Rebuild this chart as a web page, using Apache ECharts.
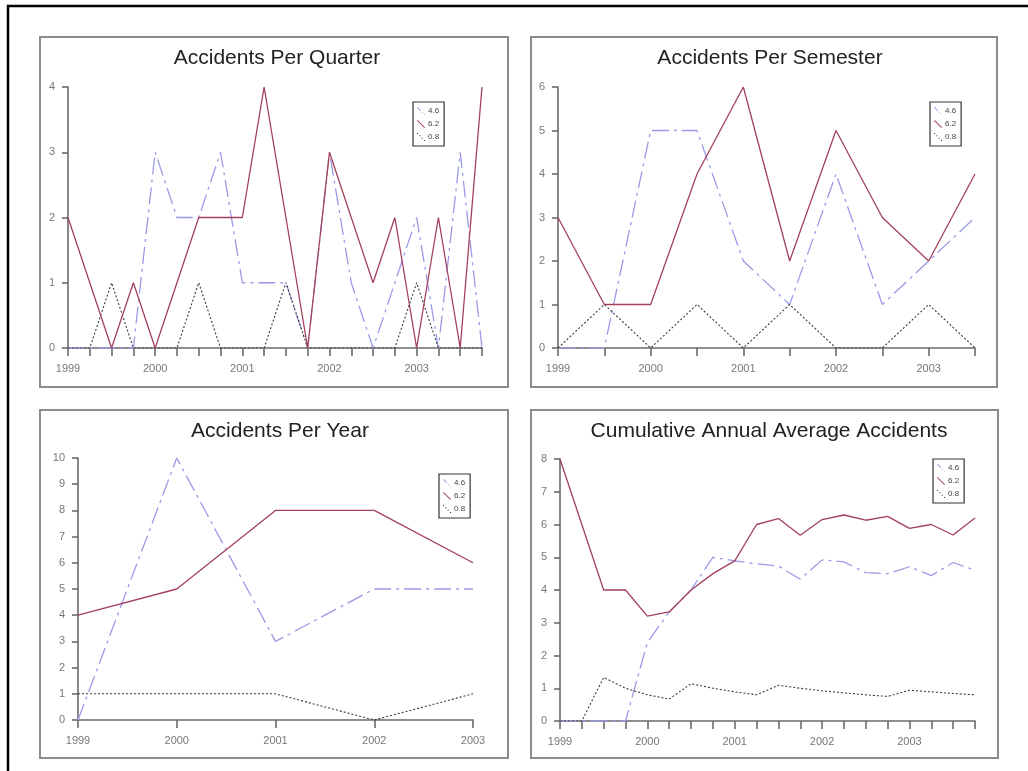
<!DOCTYPE html>
<html><head><meta charset="utf-8">
<script src="https://cdn.jsdelivr.net/npm/echarts@6/dist/echarts.min.js"></script>
<style>html,body{margin:0;padding:0;background:#fff}#c{width:1028px;height:771px}</style>
</head><body><div id="c"></div>
<script>
// ---- data ----
const quarters = ['1999 Q1','1999 Q2','1999 Q3','1999 Q4','2000 Q1','2000 Q2','2000 Q3','2000 Q4',
  '2001 Q1','2001 Q2','2001 Q3','2001 Q4','2002 Q1','2002 Q2','2002 Q3','2002 Q4',
  '2003 Q1','2003 Q2','2003 Q3','2003 Q4'];
const semesters = ['1999 H1','1999 H2','2000 H1','2000 H2','2001 H1','2001 H2','2002 H1','2002 H2','2003 H1','2003 H2'];
const years = ['1999','2000','2001','2002','2003'];
const seriesNames = ['4.6','6.2','0.8'];

const quarterBlue  = [0,0,0,0, 3,2,2,3, 1,1,1,0, 3,1,0,1, 2,0,3,0];
const quarterRed   = [2,1,0,1, 0,1,2,2, 2,4,2,0, 3,2,1,2, 0,2,0,4];
const quarterBlack = [0,0,1,0, 0,0,1,0, 0,0,1,0, 0,0,0,0, 1,0,0,0];

const semesterBlue  = [0,0,5,5,2,1,4,1,2,3];
const semesterRed   = [3,1,1,4,6,2,5,3,2,4];
const semesterBlack = [0,1,0,1,0,1,0,0,1,0];

const yearBlue  = [0,10,3,5,5];
const yearRed   = [4,5,8,8,6];
const yearBlack = [1,1,1,0,1];

const cumBlue  = [0,0,0,0, 2.4,3.33,4,5, 4.89,4.8,4.73,4.33, 4.92,4.86,4.53,4.5, 4.71,4.44,4.84,4.6];
const cumRed   = [8,6,4,4, 3.2,3.33,4,4.5, 4.89,6,6.18,5.67, 6.15,6.29,6.13,6.25, 5.88,6,5.68,6.2];
const cumBlack = [0,0,1.33,1, 0.8,0.67,1.14,1, 0.89,0.8,1.09,1, 0.92,0.86,0.8,0.75, 0.94,0.89,0.84,0.8];

const titles = ['Accidents Per Quarter','Accidents Per Semester','Accidents Per Year','Cumulative Annual Average Accidents'];
const yMax = [4,6,10,8];

// ---- styles ----
const FONT = '"Liberation Sans", Arial, sans-serif';
const BLUE = '#9a9ae8', RED = '#a3405e', BLACK = '#3a3a3a';
const styleOf = {
  '4.6': {color: BLUE, type: [17,5,3,5], width: 1.3},
  '6.2': {color: RED, type: 'solid', width: 1.3},
  '0.8': {color: BLACK, type: [2,2], width: 1.1}
};
const icons = {
  '4.6': 'path://M0,0.8L0.8,0L5,4.2L4.2,5Z M6.2,7L7,6.2L7.8,7L7,7.8Z M9.2,10L8.6,9.4L9.4,8.6L10,9.2Z',
  '6.2': 'path://M0,0.8L0.8,0L10,9.2L9.2,10Z',
  '0.8': 'path://M0,0h1.3v1.3h-1.3Z M2.9,2.9h1.3v1.3h-1.3Z M5.8,5.8h1.3v1.3h-1.3Z M8.7,8.7h1.3v1.3h-1.3Z'
};

const grids = [
  {left:68, top:87, width:414, height:261},
  {left:558, top:87, width:417, height:261},
  {left:78, top:458, width:395, height:262},
  {left:560, top:459, width:415, height:262}
];
const cats = [quarters, semesters, years, quarters];
const labelInterval = [3,1,0,3];
const dataSets = [
  [quarterBlue, quarterRed, quarterBlack],
  [semesterBlue, semesterRed, semesterBlack],
  [yearBlue, yearRed, yearBlack],
  [cumBlue, cumRed, cumBlack]
];
const titlePos = [[272,43],[765,43],[275,416],[764,416]];
const legendPos = [[413,102],[930,102],[439,474],[933,459]];
const panels = [[40,37,468,350],[531,37,466,350],[40,410,468,348],[531,410,467,348]];

const xAxis = [], yAxis = [], series = [], title = [], legend = [], graphic = [];
for (let i = 0; i < 4; i++) {
  xAxis.push({
    type:'category', gridIndex:i, data:cats[i], boundaryGap:false,
    axisLine:{lineStyle:{color:'#6a6a6a', width:1.6}},
    axisTick:{interval:0, length:8, lineStyle:{color:'#6a6a6a', width:1.6}},
    axisLabel:{interval:labelInterval[i], margin:15, fontSize:11, color:'#777', fontFamily:FONT,
      formatter: v => v.slice(0,4)},
    splitLine:{show:false}
  });
  yAxis.push({
    type:'value', gridIndex:i, min:0, max:yMax[i], interval:1,
    axisLine:{show:true, lineStyle:{color:'#6a6a6a', width:1.6}},
    axisTick:{show:true, length:6, lineStyle:{color:'#6a6a6a', width:1.6}},
    axisLabel:{margin:13, fontSize:11, color:'#777', fontFamily:FONT},
    splitLine:{show:false}
  });
  // draw order: blue, black, red on top
  [[0,'4.6'],[2,'0.8'],[1,'6.2']].forEach(([k,name]) => {
    const s = styleOf[name];
    series.push({
      type:'line', name:name, xAxisIndex:i, yAxisIndex:i, data:dataSets[i][k],
      symbol:'none', color:s.color, lineStyle:{color:s.color, type:s.type, width:s.width},
      animation:false, silent:true, z: name==='6.2'?3:2
    });
  });
  title.push({
    text:titles[i], left:titlePos[i][0], top:titlePos[i][1], textAlign:'center',
    textStyle:{fontSize:21, fontWeight:'normal', color:'#222', fontFamily:FONT}
  });
  legend.push({
    left:legendPos[i][0], top:legendPos[i][1], orient:'vertical',
    data: seriesNames.map(n => ({name:n, icon:icons[n]})),
    itemWidth:8, itemHeight:8, itemGap:5, padding:[5,5,5,4],
    borderColor:'#333', borderWidth:1.2, selectedMode:false,
    textStyle:{fontSize:8, color:'#444', fontFamily:FONT, padding:[0,0,0,-2]}
  });
  const p = panels[i];
  graphic.push({type:'rect', shape:{x:p[0], y:p[1], width:p[2], height:p[3]},
    style:{fill:'none', stroke:'#8c8c8c', lineWidth:2}, silent:true});
}
graphic.push({type:'polyline', shape:{points:[[8,771],[8,6],[1028,6]]},
  style:{fill:'none', stroke:'#000', lineWidth:2.5}, silent:true});

const chart = echarts.init(document.getElementById('c'), null, {renderer:'canvas'});
chart.setOption({
  backgroundColor:'#fff', animation:false,
  grid: grids, xAxis, yAxis, series, title, legend, graphic
});
</script></body></html>
